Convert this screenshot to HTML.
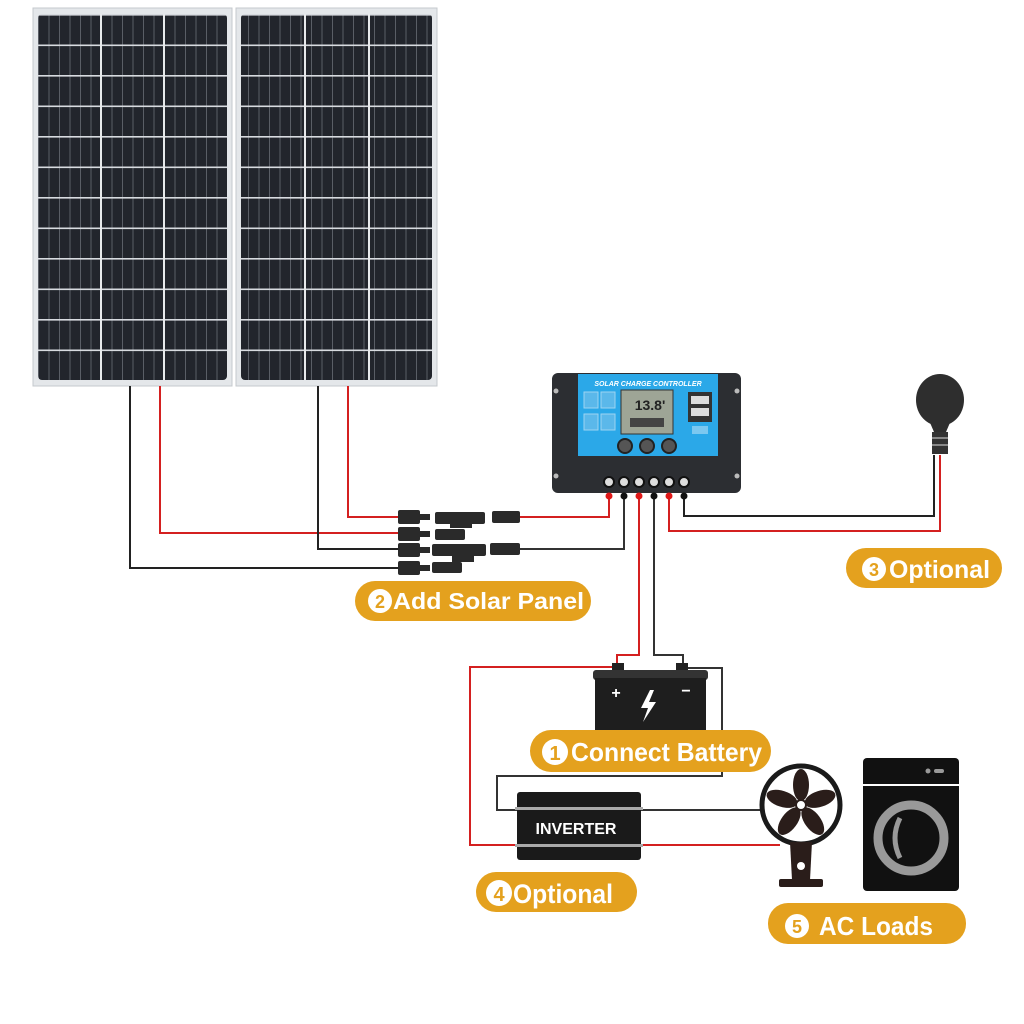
<!DOCTYPE html>
<html><head><meta charset="utf-8"><style>
html,body{margin:0;padding:0;background:#fff;}
svg{display:block;}
text{font-family:"Liberation Sans",Arial,sans-serif;font-weight:bold;}
</style></head><body>
<svg width="1024" height="1024" viewBox="0 0 1024 1024" xmlns="http://www.w3.org/2000/svg">
<defs>
<pattern id="cells" x="38" y="14" width="10.5" height="30.5" patternUnits="userSpaceOnUse">
<rect width="10.5" height="30.5" fill="#22252c"/>
<rect x="0" y="0" width="1" height="30.5" fill="#5a5e66"/>
<rect x="0" y="0" width="10.5" height="1.6" fill="#d8dbe0"/>
</pattern>
</defs>
<rect width="1024" height="1024" fill="#fff"/>
<g>
<rect x="33" y="8" width="199" height="378" fill="#e4e7ea" stroke="#c5c9cd"/>
<rect x="38" y="14" width="189" height="366" rx="4" fill="url(#cells)"/>
<rect x="100" y="14" width="2" height="366" fill="#e8eaec"/>
<rect x="163" y="14" width="2" height="366" fill="#e8eaec"/>
<rect x="236" y="8" width="201" height="378" fill="#e4e7ea" stroke="#c5c9cd"/>
<rect x="241" y="14" width="191" height="366" rx="4" fill="url(#cells)"/>
<rect x="304" y="14" width="2" height="366" fill="#e8eaec"/>
<rect x="368" y="14" width="2" height="366" fill="#e8eaec"/>
</g>
<g fill="none" stroke-width="2">
<polyline points="130,386 130,568 400,568" stroke="#222"/>
<polyline points="160,386 160,533 400,533" stroke="#d42020"/>
<polyline points="318,386 318,549 400,549" stroke="#222"/>
<polyline points="348,386 348,517 400,517" stroke="#d42020"/>
<polyline points="520,517 609,517 609,495" stroke="#d42020"/>
<polyline points="520,549 624,549 624,495" stroke="#333"/>
<polyline points="639,495 639,655 617,655 617,668" stroke="#d42020"/>
<polyline points="654,495 654,655 683,655 683,668" stroke="#333"/>
<polyline points="617,667 470,667 470,845 517,845" stroke="#d42020"/>
<polyline points="683,668 722,668 722,776 497,776 497,810 517,810" stroke="#333"/>
<polyline points="641,810 762,810" stroke="#333"/>
<polyline points="641,845 780,845" stroke="#d42020"/>
<polyline points="669,495 669,531 940,531 940,455" stroke="#d42020"/>
<polyline points="684,495 684,516 934,516 934,455" stroke="#222"/>
</g>
<g fill="#2a2a2a">
<rect x="398" y="510" width="22" height="14" rx="2"/><rect x="420" y="514" width="10" height="6"/>
<rect x="435" y="512" width="50" height="12" rx="2"/><rect x="450" y="519" width="22" height="9"/>
<rect x="492" y="511" width="28" height="12" rx="2"/>
<rect x="398" y="527" width="22" height="14" rx="2"/><rect x="420" y="531" width="10" height="6"/>
<rect x="435" y="529" width="30" height="11" rx="2"/>
<rect x="398" y="543" width="22" height="14" rx="2"/><rect x="420" y="547" width="10" height="6"/>
<rect x="432" y="544" width="54" height="12" rx="2"/><rect x="452" y="553" width="22" height="9"/>
<rect x="490" y="543" width="30" height="12" rx="2"/>
<rect x="398" y="561" width="22" height="14" rx="2"/><rect x="420" y="565" width="10" height="6"/>
<rect x="432" y="562" width="30" height="11" rx="2"/>
</g>
<g>
<rect x="552" y="373" width="189" height="120" rx="6" fill="#2c2e32"/>
<rect x="578" y="374" width="140" height="82" fill="#2ba8e8"/>
<text x="648" y="386" font-size="7" fill="#fff" text-anchor="middle" font-style="italic">SOLAR CHARGE CONTROLLER</text>
<rect x="621" y="390" width="52" height="44" fill="#9ea596" stroke="#333"/>
<text x="650" y="410" font-size="14" fill="#222" text-anchor="middle" font-weight="normal">13.8'</text>
<rect x="630" y="418" width="34" height="9" fill="#444"/>
<rect x="584" y="392" width="14" height="16" fill="#5bb8ea" stroke="#9cd4f2"/>
<rect x="601" y="392" width="14" height="16" fill="#5bb8ea" stroke="#9cd4f2"/>
<rect x="584" y="414" width="14" height="16" fill="#5bb8ea" stroke="#9cd4f2"/>
<rect x="601" y="414" width="14" height="16" fill="#5bb8ea" stroke="#9cd4f2"/>
<rect x="688" y="392" width="24" height="30" fill="#333"/>
<rect x="691" y="396" width="18" height="8" fill="#ddd"/><rect x="691" y="408" width="18" height="8" fill="#ddd"/>
<rect x="692" y="426" width="16" height="8" fill="#7cc8f0"/>
<circle cx="625" cy="446" r="7" fill="#555" stroke="#222" stroke-width="2"/>
<circle cx="647" cy="446" r="7" fill="#555" stroke="#222" stroke-width="2"/>
<circle cx="669" cy="446" r="7" fill="#555" stroke="#222" stroke-width="2"/>
<circle cx="556" cy="391" r="2.5" fill="#bbb"/><circle cx="737" cy="391" r="2.5" fill="#bbb"/>
<circle cx="556" cy="476" r="2.5" fill="#bbb"/><circle cx="737" cy="476" r="2.5" fill="#bbb"/>
<g fill="#ddd" stroke="#111" stroke-width="2">
<circle cx="609" cy="482" r="5"/><circle cx="624" cy="482" r="5"/><circle cx="639" cy="482" r="5"/>
<circle cx="654" cy="482" r="5"/><circle cx="669" cy="482" r="5"/><circle cx="684" cy="482" r="5"/>
</g>
<g><circle cx="609" cy="496" r="3.5" fill="#e01818"/><circle cx="624" cy="496" r="3.5" fill="#111"/><circle cx="639" cy="496" r="3.5" fill="#e01818"/><circle cx="654" cy="496" r="3.5" fill="#111"/><circle cx="669" cy="496" r="3.5" fill="#e01818"/><circle cx="684" cy="496" r="3.5" fill="#111"/></g>
</g>
<g>
<ellipse cx="940" cy="400" rx="24" ry="26" fill="#2e2e2e"/>
<path d="M928,418 L952,418 L946,432 L934,432 Z" fill="#2e2e2e"/>
<rect x="932" y="432" width="16" height="22" fill="#333"/>
<rect x="932" y="437" width="16" height="2" fill="#888"/><rect x="932" y="444" width="16" height="2" fill="#888"/>
</g>
<g>
<rect x="612" y="663" width="12" height="8" fill="#222"/><rect x="676" y="663" width="12" height="8" fill="#222"/>
<rect x="593" y="670" width="115" height="10" rx="3" fill="#333"/>
<rect x="595" y="678" width="111" height="54" fill="#1e1e1e"/>
<text x="616" y="698" font-size="16" fill="#fff" text-anchor="middle">+</text>
<text x="686" y="696" font-size="16" fill="#fff" text-anchor="middle">−</text>
<path d="M650,690 L641,708 L648,708 L643,722 L656,702 L649,702 L654,690 Z" fill="#fff"/>
</g>
<g>
<rect x="517" y="792" width="124" height="68" rx="3" fill="#1a1a1a"/>
<rect x="515" y="807" width="128" height="3" fill="#aaa"/>
<rect x="515" y="844" width="128" height="3" fill="#aaa"/>
<text x="576" y="834" font-size="16" fill="#fff" text-anchor="middle">INVERTER</text>
</g>
<g>
<circle cx="801" cy="805" r="39" fill="#fff" stroke="#1a1a1a" stroke-width="5"/>
<g fill="#2a1d1a" transform="translate(801,805)">
<ellipse cx="0" cy="-20" rx="8" ry="16"/>
<ellipse cx="0" cy="-20" rx="8" ry="16" transform="rotate(72)"/>
<ellipse cx="0" cy="-20" rx="8" ry="16" transform="rotate(144)"/>
<ellipse cx="0" cy="-20" rx="8" ry="16" transform="rotate(216)"/>
<ellipse cx="0" cy="-20" rx="8" ry="16" transform="rotate(288)"/>
<circle r="5" fill="#fff" stroke="#2a1d1a" stroke-width="2"/>
</g>
<path d="M790,842 L812,842 L810,880 L792,880 Z" fill="#2a1d1a"/>
<circle cx="801" cy="866" r="4" fill="#fff"/>
<rect x="779" y="879" width="44" height="8" rx="2" fill="#2a1d1a"/>
</g>
<g>
<rect x="863" y="758" width="96" height="133" rx="4" fill="#111"/>
<rect x="863" y="784" width="96" height="2" fill="#fff"/>
<circle cx="928" cy="771" r="2.5" fill="#999"/><rect x="934" y="769" width="10" height="4" rx="2" fill="#999"/>
<circle cx="911" cy="838" r="33" fill="none" stroke="#999" stroke-width="9"/>
<path d="M900,818 Q890,838 900,858" fill="none" stroke="#999" stroke-width="5"/>
</g>
<g>
<rect x="355" y="581" width="236" height="40" rx="20" fill="#e4a11e"/>
<circle cx="380" cy="601" r="12" fill="#fff"/><text x="380" y="608" font-size="18" fill="#e4a11e" text-anchor="middle">2</text>
<text x="393" y="609" font-size="23" fill="#fff" textLength="191" lengthAdjust="spacingAndGlyphs">Add Solar Panel</text>
<rect x="846" y="548" width="156" height="40" rx="20" fill="#e4a11e"/>
<circle cx="874" cy="569" r="12" fill="#fff"/><text x="874" y="576" font-size="18" fill="#e4a11e" text-anchor="middle">3</text>
<text x="889" y="578" font-size="25" fill="#fff" textLength="101" lengthAdjust="spacingAndGlyphs">Optional</text>
<rect x="530" y="730" width="241" height="42" rx="21" fill="#e4a11e"/>
<circle cx="555" cy="752" r="13" fill="#fff"/><text x="555" y="760" font-size="20" fill="#e4a11e" text-anchor="middle">1</text>
<text x="571" y="761" font-size="26" fill="#fff" textLength="191" lengthAdjust="spacingAndGlyphs">Connect Battery</text>
<rect x="476" y="872" width="161" height="40" rx="20" fill="#e4a11e"/>
<circle cx="499" cy="893" r="13" fill="#fff"/><text x="499" y="901" font-size="20" fill="#e4a11e" text-anchor="middle">4</text>
<text x="513" y="903" font-size="27" fill="#fff" textLength="100" lengthAdjust="spacingAndGlyphs">Optional</text>
<rect x="768" y="903" width="198" height="41" rx="20" fill="#e4a11e"/>
<circle cx="797" cy="926" r="12" fill="#fff"/><text x="797" y="933" font-size="18" fill="#e4a11e" text-anchor="middle">5</text>
<text x="819" y="935" font-size="26" fill="#fff" textLength="114" lengthAdjust="spacingAndGlyphs">AC Loads</text>
</g>
</svg>
</body></html>
